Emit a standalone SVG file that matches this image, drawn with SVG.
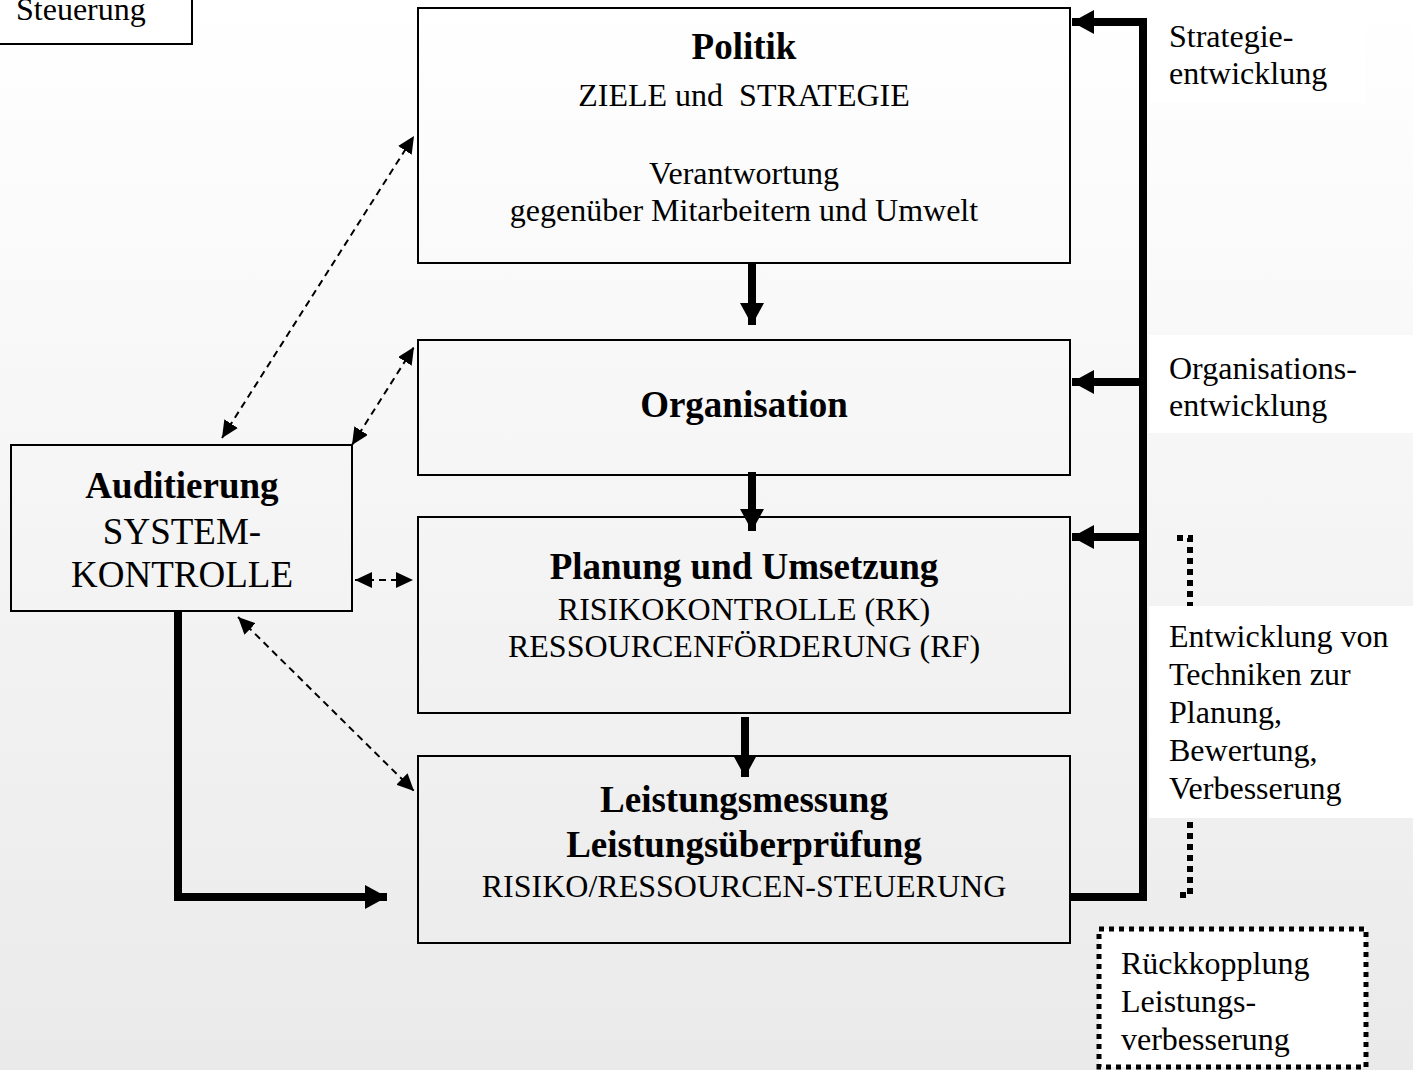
<svg xmlns="http://www.w3.org/2000/svg" width="1413" height="1070" viewBox="0 0 1413 1070">
<defs>
<linearGradient id="bg" x1="0" y1="0" x2="0" y2="1">
<stop offset="0" stop-color="#ffffff"/>
<stop offset="1" stop-color="#eaeaea"/>
</linearGradient>
<marker id="big" markerUnits="userSpaceOnUse" markerWidth="26" markerHeight="26" refX="22" refY="12" orient="auto">
<path d="M0,0 L22,12 L0,24 Z" fill="#000"/>
</marker>
<marker id="small" markerUnits="userSpaceOnUse" markerWidth="20" markerHeight="20" refX="17" refY="8" orient="auto-start-reverse">
<path d="M0,0 L17,8 L0,16 Z" fill="#000"/>
</marker>
</defs>
<style>
.box{fill:none;stroke:#000;stroke-width:2}
.t{font-family:"Liberation Serif","Times New Roman",serif;fill:#000}
.c{text-anchor:middle}
.b{font-weight:bold;font-size:37px}
.r{font-size:32px}
.a{font-size:37px}
.thick{fill:none;stroke:#000;stroke-width:8}
.dash{fill:none;stroke:#000;stroke-width:2;stroke-dasharray:7 5}
.lbl{fill:#fff;stroke:none}
</style>
<rect x="0" y="0" width="1413" height="1070" fill="url(#bg)"/>

<g id="label-backgrounds">
<rect class="lbl" x="1150" y="0" width="215" height="103"/>
<rect class="lbl" x="1149" y="335" width="264" height="98"/>
</g>

<g id="connectors">
<path class="thick" d="M752,263 V325" marker-end="url(#big)"/>
<path class="thick" d="M752,472 V531" marker-end="url(#big)"/>
<path class="thick" d="M745,717 V777" marker-end="url(#big)"/>
<path class="thick" d="M1070,897 H1143 V22 H1072" marker-end="url(#big)"/>
<path class="thick" d="M1143,382 H1072" marker-end="url(#big)"/>
<path class="thick" d="M1143,537 H1072" marker-end="url(#big)"/>
<path class="thick" d="M178,611 V897 H387" marker-end="url(#big)"/>
<path class="dash" d="M222,438 L414,136" marker-start="url(#small)" marker-end="url(#small)"/>
<path class="dash" d="M352,445 L414,347" marker-start="url(#small)" marker-end="url(#small)"/>
<path class="dash" d="M355,580 L413,580" marker-start="url(#small)" marker-end="url(#small)"/>
<path class="dash" d="M238,617 L414,791" marker-start="url(#small)" marker-end="url(#small)"/>
<path d="M1177,538 H1190 V895 H1177" fill="none" stroke="#000" stroke-width="6" stroke-dasharray="6 5"/>
</g>

<g id="label-background-entwicklung">
<rect class="lbl" x="1149" y="606" width="264" height="212"/>
</g>

<g id="steuerung">
<rect x="-2" y="-2" width="194" height="46" fill="#fff" stroke="#000" stroke-width="2"/>
<text class="t r" x="16" y="20">Steuerung</text>
</g>

<g id="politik">
<rect class="box" x="418" y="8" width="652" height="255"/>
<text class="t c b" x="744" y="59">Politik</text>
<text class="t c r" x="744" y="106" xml:space="preserve">ZIELE und  STRATEGIE</text>
<text class="t c r" x="744" y="184">Verantwortung</text>
<text class="t c r" x="744" y="221">gegenüber Mitarbeitern und Umwelt</text>
</g>

<g id="organisation">
<rect class="box" x="418" y="340" width="652" height="135"/>
<text class="t c b" x="744" y="417">Organisation</text>
</g>

<g id="planung">
<rect class="box" x="418" y="517" width="652" height="196"/>
<text class="t c b" x="744" y="579">Planung und Umsetzung</text>
<text class="t c r" x="744" y="620">RISIKOKONTROLLE (RK)</text>
<text class="t c r" x="744" y="657">RESSOURCENFÖRDERUNG (RF)</text>
</g>

<g id="leistung">
<rect class="box" x="418" y="756" width="652" height="187"/>
<text class="t c b" x="744" y="812">Leistungsmessung</text>
<text class="t c b" x="744" y="857">Leistungsüberprüfung</text>
<text class="t c r" x="744" y="897">RISIKO/RESSOURCEN-STEUERUNG</text>
</g>

<g id="auditierung">
<rect class="box" x="11" y="445" width="341" height="166"/>
<text class="t c b" x="182" y="498">Auditierung</text>
<text class="t c a" x="182" y="544">SYSTEM-</text>
<text class="t c a" x="182" y="587">KONTROLLE</text>
</g>

<g id="strategie-label">
<text class="t r" x="1169" y="47">Strategie-</text>
<text class="t r" x="1169" y="84">entwicklung</text>
</g>

<g id="organisation-label">
<text class="t r" x="1169" y="379">Organisations-</text>
<text class="t r" x="1169" y="416">entwicklung</text>
</g>

<g id="entwicklung-label">
<text class="t r" x="1169" y="647">Entwicklung von</text>
<text class="t r" x="1169" y="685">Techniken zur</text>
<text class="t r" x="1169" y="723">Planung,</text>
<text class="t r" x="1169" y="761">Bewertung,</text>
<text class="t r" x="1169" y="799">Verbesserung</text>
</g>

<g id="rueckkopplung">
<rect x="1099" y="929" width="267" height="138" fill="#fff" stroke="#000" stroke-width="5" stroke-dasharray="5 5"/>
<text class="t r" x="1121" y="974">Rückkopplung</text>
<text class="t r" x="1121" y="1012">Leistungs-</text>
<text class="t r" x="1121" y="1050">verbesserung</text>
</g>
</svg>
